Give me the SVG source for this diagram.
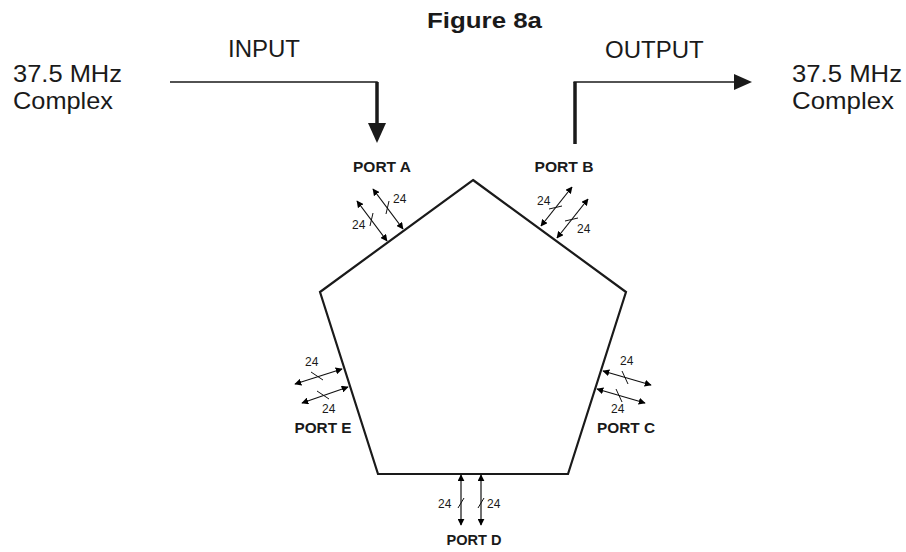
<svg xmlns="http://www.w3.org/2000/svg" width="906" height="552" viewBox="0 0 906 552">
<defs>
<marker id="ah" viewBox="0 0 10 10" refX="9" refY="5" markerWidth="7" markerHeight="7" markerUnits="userSpaceOnUse" orient="auto-start-reverse">
<path d="M0,0 L10,5 L0,10 Z" fill="#000"/>
</marker>
<style>
.t{font-family:"Liberation Sans",Arial,sans-serif;fill:#1a1a1a}
.big{font-size:24px}
.port{font-size:14px;font-weight:bold}
.n{font-size:12px}
.da{stroke:#111;stroke-width:1.2;fill:none;marker-start:url(#ah);marker-end:url(#ah)}
.tk{stroke:#111;stroke-width:1;fill:none}
</style>
</defs>
<rect width="906" height="552" fill="#fff"/>
<text class="t" x="427" y="28" font-size="22" font-weight="bold" textLength="115" lengthAdjust="spacingAndGlyphs">Figure 8a</text>
<text class="t big" x="228" y="57">INPUT</text>
<text class="t big" x="605" y="58">OUTPUT</text>
<text class="t big" x="13" y="82" textLength="109" lengthAdjust="spacingAndGlyphs">37.5 MHz</text>
<text class="t big" x="13" y="109" textLength="100" lengthAdjust="spacingAndGlyphs">Complex</text>
<text class="t big" x="792" y="82" textLength="110" lengthAdjust="spacingAndGlyphs">37.5 MHz</text>
<text class="t big" x="792" y="109" textLength="102" lengthAdjust="spacingAndGlyphs">Complex</text>

<g id="pentagon">
<polygon points="473,180 626,292 568,474 378,474 320,292" fill="none" stroke="#1a1a1a" stroke-width="2.2"/>
</g>

<g id="connectors">
<polyline points="170,82 377,82 377,124" fill="none" stroke="#1a1a1a" stroke-width="1.5"/>
<line x1="377" y1="82" x2="377" y2="126" stroke="#1a1a1a" stroke-width="3.5"/>
<polygon points="368,123 386,123 377,143" fill="#1a1a1a"/>
<line x1="575" y1="144" x2="575" y2="82" stroke="#1a1a1a" stroke-width="3.5"/>
<line x1="573.5" y1="82" x2="736" y2="82" stroke="#1a1a1a" stroke-width="1.5"/>
<polygon points="734,74 752,82 734,90" fill="#1a1a1a"/>
</g>

<g id="portA">
<text class="t port" x="382" y="172" text-anchor="middle" textLength="58" lengthAdjust="spacingAndGlyphs">PORT A</text>
<line class="da" x1="357" y1="201" x2="387" y2="241"/>
<line class="da" x1="373" y1="189" x2="403" y2="229"/>
<line class="tk" x1="373" y1="213" x2="370" y2="226"/>
<line class="tk" x1="389" y1="201" x2="386" y2="214"/>
<text class="t n" x="352" y="229">24</text>
<text class="t n" x="393" y="203">24</text>
</g>

<g id="portB">
<text class="t port" x="564" y="172" text-anchor="middle" textLength="59" lengthAdjust="spacingAndGlyphs">PORT B</text>
<line class="da" x1="541" y1="226" x2="572" y2="187"/>
<line class="da" x1="557" y1="238" x2="588" y2="199"/>
<line class="tk" x1="549" y1="209" x2="562" y2="206"/>
<line class="tk" x1="565" y1="221" x2="578" y2="218"/>
<text class="t n" x="537" y="205">24</text>
<text class="t n" x="577" y="233">24</text>
</g>

<g id="portC">
<text class="t port" x="626" y="433" text-anchor="middle" textLength="58" lengthAdjust="spacingAndGlyphs">PORT C</text>
<line class="da" x1="603" y1="371" x2="651" y2="385"/>
<line class="da" x1="597" y1="389" x2="645" y2="403"/>
<line class="tk" x1="622" y1="371" x2="628" y2="384"/>
<line class="tk" x1="616" y1="389" x2="622" y2="402"/>
<text class="t n" x="620" y="365">24</text>
<text class="t n" x="611" y="413">24</text>
</g>

<g id="portD">
<text class="t port" x="474" y="545" text-anchor="middle" textLength="55" lengthAdjust="spacingAndGlyphs">PORT D</text>
<line class="da" x1="461" y1="475" x2="461" y2="525"/>
<line class="da" x1="481" y1="475" x2="481" y2="525"/>
<line class="tk" x1="458" y1="508" x2="464" y2="498"/>
<line class="tk" x1="478" y1="508" x2="484" y2="498"/>
<text class="t n" x="438" y="508">24</text>
<text class="t n" x="487" y="508">24</text>
</g>

<g id="portE">
<text class="t port" x="323" y="433" text-anchor="middle" textLength="57" lengthAdjust="spacingAndGlyphs">PORT E</text>
<line class="da" x1="295" y1="384" x2="342" y2="369"/>
<line class="da" x1="302" y1="403" x2="348" y2="387"/>
<line class="tk" x1="311" y1="372" x2="323" y2="380"/>
<line class="tk" x1="317" y1="391" x2="329" y2="399"/>
<text class="t n" x="305" y="366">24</text>
<text class="t n" x="322" y="413">24</text>
</g>
</svg>
